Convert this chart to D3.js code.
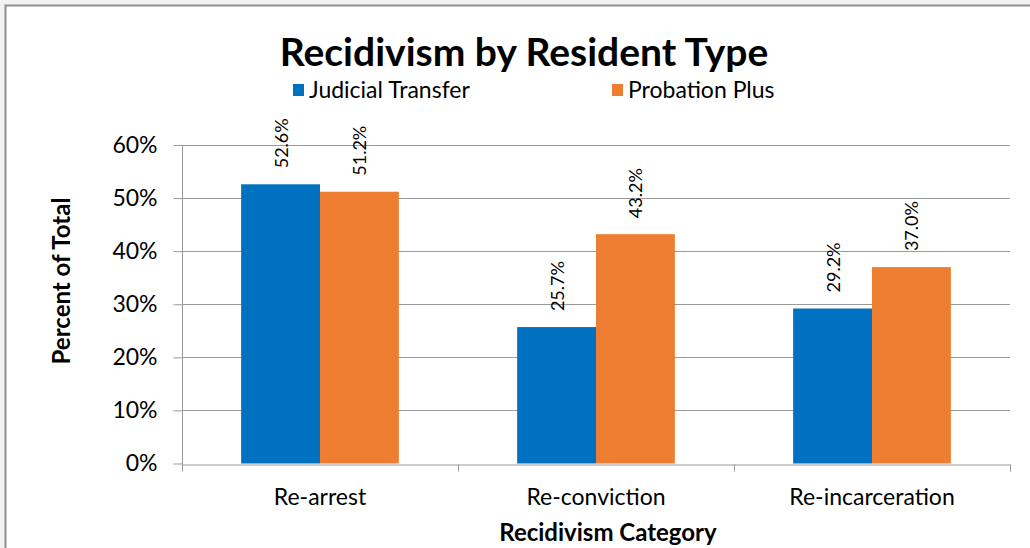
<!DOCTYPE html>
<html><head><meta charset="utf-8">
<script src="https://cdn.jsdelivr.net/npm/d3@7"></script>
<style>html,body{margin:0;padding:0;background:#f2f2f2;}svg{display:block;}</style>
</head><body>
<svg id="chart" width="1030" height="548"></svg>
<script>
const categories = ["Re-arrest", "Re-conviction", "Re-incarceration"];
const seriesNames = ["Judicial Transfer", "Probation Plus"];
const judicialTransfer = [52.6, 25.7, 29.2];
const probationPlus = [51.2, 43.2, 37.0];
const yTicks = [0, 10, 20, 30, 40, 50, 60];
const colors = ["#0070C0", "#ED7D31"];
const FONT = "Lato, 'Open Sans', sans-serif";

const svg = d3.select("#chart");
svg.append("rect").attr("x", 5.5).attr("y", 5.5).attr("width", 1040).attr("height", 560)
  .attr("fill", "#fff").attr("stroke", "#8c8c8c").attr("stroke-width", 2);

const m = {left: 182, right: 1010, top: 145, bottom: 463.5};
const x = d3.scaleBand().domain(categories).range([m.left, m.right]).paddingInner(0).paddingOuter(0);
const y = d3.scaleLinear().domain([0, 60]).range([m.bottom, m.top]);
const barW = x.bandwidth() / 3.5;
const x1 = d3.scaleBand().domain(seriesNames).range([barW * 0.75, barW * 2.75]);

// grid
svg.append("g").selectAll("line").data(yTicks.filter(d => d > 0)).join("line")
  .attr("x1", m.left).attr("x2", m.right)
  .attr("y1", d => Math.round(y(d)) + 0.5).attr("y2", d => Math.round(y(d)) + 0.5)
  .attr("stroke", "#9a9a9a").attr("stroke-width", 1);

// bars
const data = categories.map((c, i) => ({c, vals: [judicialTransfer[i], probationPlus[i]]}));
const g = svg.append("g").selectAll("g").data(data).join("g")
  .attr("transform", d => `translate(${x(d.c)},0)`);
g.selectAll("rect").data(d => d.vals.map((v, j) => ({v, s: seriesNames[j], j}))).join("rect")
  .attr("x", d => x1(d.s)).attr("width", x1.bandwidth())
  .attr("y", d => y(d.v)).attr("height", d => y(0) - y(d.v))
  .attr("fill", d => colors[d.j]);
g.selectAll("text").data(d => d.vals.map((v, j) => ({v, s: seriesNames[j], j}))).join("text")
  .attr("transform", d => `translate(${x1(d.s) + x1.bandwidth() / 2 + 7},${y(d.v) - 16}) rotate(-90)`)
  .attr("font-family", FONT).attr("font-size", 18).attr("fill", "#000")
  .text(d => d.v.toFixed(1) + "%");

// y axis
const yAxis = d3.axisLeft(y).tickValues(yTicks).tickFormat(d => d + "%").tickSize(9).tickPadding(16);
const ya = svg.append("g").attr("transform", `translate(${m.left + 0.5},0)`).call(yAxis);
ya.select(".domain").attr("stroke", "#9a9a9a").attr("d", `M0,${m.top}V${m.bottom + 7}`);
ya.selectAll(".tick line").attr("stroke", "#9a9a9a");
ya.selectAll(".tick text").attr("font-family", FONT).attr("font-size", 23).attr("fill", "#000");

// x axis
const xa = svg.append("g").attr("transform", `translate(0,${Math.round(m.bottom) + 0.5})`)
  .call(d3.axisBottom(x).tickSize(0).tickPadding(24));
xa.select(".domain").attr("stroke", "#9a9a9a");
xa.selectAll(".tick text").attr("font-family", FONT).attr("font-size", 23).attr("fill", "#000");
const bounds = categories.map(c => x(c)).concat([m.right]);
xa.append("g").selectAll("line").data(bounds).join("line")
  .attr("x1", d => Math.round(d) + 0.5).attr("x2", d => Math.round(d) + 0.5)
  .attr("y1", 0).attr("y2", 7).attr("stroke", "#9a9a9a");

// titles
svg.append("text").attr("x", 524).attr("y", 66).attr("text-anchor", "middle")
  .attr("font-family", FONT).attr("font-weight", "bold").attr("font-size", 39).attr("fill", "#000")
  .text("Recidivism by Resident Type");
svg.append("text").attr("transform", "translate(70,281) rotate(-90)").attr("text-anchor", "middle")
  .attr("font-family", FONT).attr("font-weight", "bold").attr("font-size", 24).attr("fill", "#000")
  .text("Percent of Total");
svg.append("text").attr("x", 608).attr("y", 541).attr("text-anchor", "middle")
  .attr("font-family", FONT).attr("font-weight", "bold").attr("font-size", 24).attr("fill", "#000")
  .text("Recidivism Category");

// legend
const legX = [293, 612];
const lg = svg.append("g").selectAll("g").data(seriesNames).join("g")
  .attr("transform", (d, i) => `translate(${legX[i]},84)`);
lg.append("rect").attr("width", 11).attr("height", 12).attr("fill", (d, i) => colors[i]);
lg.append("text").attr("x", 16).attr("y", 14).attr("font-family", FONT).attr("font-size", 23).attr("fill", "#000")
  .text(d => d);
</script>
</body></html>
